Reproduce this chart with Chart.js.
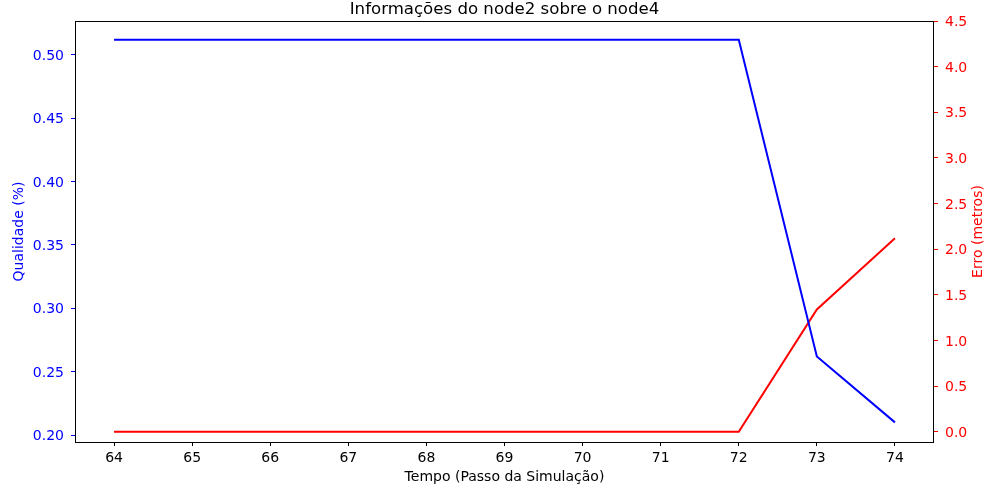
<!DOCTYPE html>
<html>
<head>
<meta charset="utf-8">
<script src="https://cdn.jsdelivr.net/npm/chart.js@4.4.0/dist/chart.umd.min.js"></script>
<style>
  body { margin: 0; background: #fff; }
  canvas { display: block; }
</style>
</head>
<body>
<canvas id="myChart" width="1000" height="500"></canvas>
<script>
// data
let steps = [64, 65, 66, 67, 68, 69, 70, 71, 72, 73, 74];
let qualidade = [0.512, 0.512, 0.512, 0.512, 0.512, 0.512, 0.512, 0.512, 0.512, 0.262, 0.210];
let erro = [0, 0, 0, 0, 0, 0, 0, 0, 0, 1.34, 2.12];

let chartTitle = 'Informações do node2 sobre o node4';
let xLabel = 'Tempo (Passo da Simulação)';
let leftLabel = 'Qualidade (%)';
let rightLabel = 'Erro (metros)';

const FONT = 'DejaVu Sans';

function toPoints(xs, ys) {
    return xs.map(function (x, i) { return { x: x, y: ys[i] }; });
}

// box around the plot, title and right label (matplotlib look)
const framePlugin = {
    id: 'frame',
    afterDraw(chart) {
        let ctx = chart.ctx;
        let a = chart.chartArea;
        ctx.save();
        ctx.strokeStyle = '#000';
        ctx.lineWidth = 1;
        ctx.strokeRect(Math.round(a.left) + 0.5, Math.round(a.top) + 0.5,
            Math.round(a.right - a.left) - 1, Math.round(a.bottom - a.top));

        ctx.fillStyle = '#000';
        ctx.font = '16.6px "' + FONT + '"';
        ctx.textAlign = 'center';
        ctx.textBaseline = 'middle';
        ctx.fillText(chartTitle, (a.left + a.right) / 2, 9.5);

        ctx.fillStyle = '#ff0000';
        ctx.font = '14px "' + FONT + '"';
        ctx.translate(978, (a.top + a.bottom) / 2);
        ctx.rotate(-Math.PI / 2);
        ctx.fillText(rightLabel, 0, 0);
        ctx.restore();
    }
};

let ctx = document.getElementById('myChart').getContext('2d');

new Chart(ctx, {
    type: 'line',
    data: {
        datasets: [{
            label: leftLabel,
            data: toPoints(steps, qualidade),
            borderColor: '#0000ff',
            borderWidth: 2,
            pointRadius: 0,
            tension: 0,
            yAxisID: 'y'
        }, {
            label: rightLabel,
            data: toPoints(steps, erro),
            borderColor: '#ff0000',
            borderWidth: 2,
            pointRadius: 0,
            tension: 0,
            yAxisID: 'y2'
        }]
    },
    options: {
        responsive: false,
        animation: false,
        layout: { padding: { top: 21, left: 0, right: 0, bottom: 0 } },
        plugins: {
            legend: { display: false },
            title: { display: false },
            tooltip: { enabled: false }
        },
        scales: {
            x: {
                type: 'linear',
                min: 63.5,
                max: 74.5,
                afterFit(scale) { scale.height = 58; },
                afterBuildTicks(scale) {
                    scale.ticks = steps.map(function (s) { return { value: s }; });
                },
                border: { display: false },
                grid: { drawOnChartArea: false, drawTicks: true, tickLength: 4, color: '#000' },
                ticks: {
                    autoSkip: false,
                    maxRotation: 0,
                    padding: 4,
                    color: '#000',
                    font: { family: FONT, size: 14 },
                    callback: function (v) { return String(v); }
                },
                title: {
                    display: true,
                    text: xLabel,
                    color: '#000',
                    font: { family: FONT, size: 14 },
                    padding: { top: 0, bottom: 14 }
                }
            },
            y: {
                position: 'left',
                min: 0.1945,
                max: 0.5268,
                afterFit(scale) { scale.width = 75; },
                border: { display: false },
                grid: { drawOnChartArea: false, drawTicks: true, tickLength: 4, color: '#0000ff' },
                ticks: {
                    stepSize: 0.05,
                    includeBounds: false,
                    padding: 7,
                    labelOffset: 1.5,
                    color: '#0000ff',
                    font: { family: FONT, size: 14 },
                    callback: function (v) { return v.toFixed(2); }
                },
                title: {
                    display: true,
                    text: leftLabel,
                    color: '#0000ff',
                    font: { family: FONT, size: 14 },
                    padding: { top: 11, bottom: 0 }
                }
            },
            y2: {
                position: 'right',
                min: -0.113,
                max: 4.5,
                afterFit(scale) { scale.width = 66; },
                border: { display: false },
                grid: { drawOnChartArea: false, drawTicks: true, tickLength: 4, color: '#ff0000' },
                ticks: {
                    stepSize: 0.5,
                    includeBounds: false,
                    padding: 7,
                    labelOffset: 1.5,
                    color: '#ff0000',
                    font: { family: FONT, size: 14 },
                    callback: function (v) { return v.toFixed(1); }
                }
            }
        }
    },
    plugins: [framePlugin]
});
</script>
</body>
</html>
